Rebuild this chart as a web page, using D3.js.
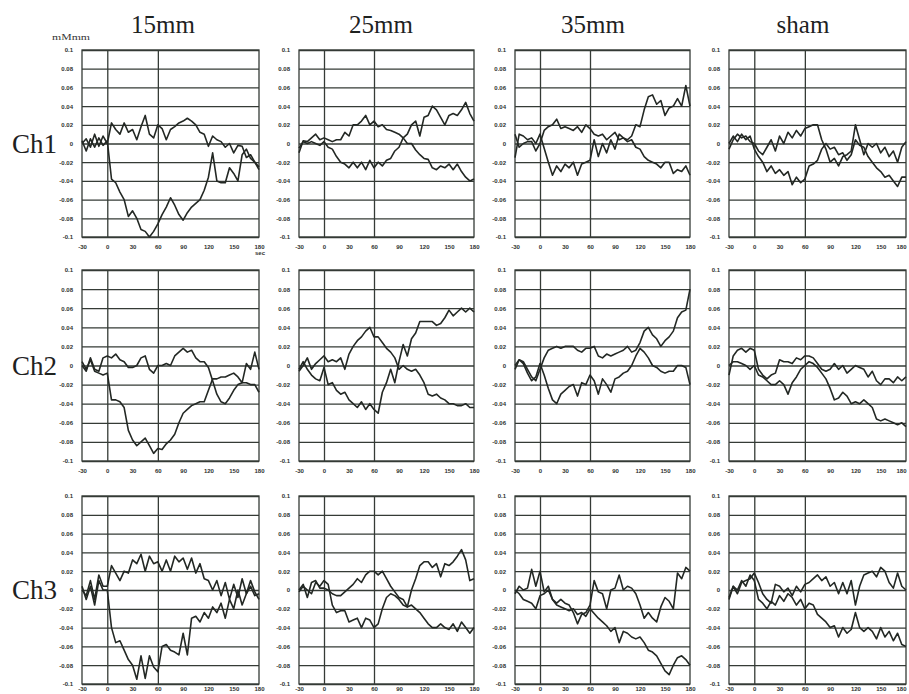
<!DOCTYPE html>
<html>
<head>
<meta charset="utf-8">
<script src="https://cdn.jsdelivr.net/npm/d3@7"></script>
<style>
  body { margin: 0; background: #fff; }
  svg { display: block; }
</style>
</head>
<body>
<script>
// sample times, sec
var seconds = [-30, -25, -20, -15, -10, -5, 0, 5, 10, 15, 20,
               25, 30, 35, 40, 45, 50, 55, 60, 65, 70, 75,
               80, 85, 90, 95, 100, 105, 110, 115, 120, 125, 130,
               135, 140, 145, 150, 155, 160, 165, 170, 175, 180];

var columns = ["15mm", "25mm", "35mm", "sham"];
var channels = ["Ch1", "Ch2", "Ch3"];
var yTicks = [0.1, 0.08, 0.06, 0.04, 0.02, 0, -0.02, -0.04, -0.06, -0.08, -0.1];
var xTicks = [-30, 0, 30, 60, 90, 120, 150, 180];
var markTimes = [0, 60];

// Ch1
var ch1_15_a = [0.0, 0.005, -0.004, 0.01, -0.003, 0.008, 0.0, 0.022, 0.015, 0.01, 0.022,
  0.012, 0.015, 0.004, 0.018, 0.03, 0.01, 0.006, 0.02, 0.016, 0.004, 0.015,
  0.018, 0.022, 0.024, 0.027, 0.024, 0.02, 0.012, 0.01, -0.003, 0.008, 0.004,
  0.002, -0.004, 0.0, -0.01, -0.002, -0.003, -0.015, -0.012, -0.02, -0.028];
var ch1_15_b = [0.003, -0.008, 0.005, -0.004, 0.006, -0.002, 0.003, -0.038, -0.042, -0.052, -0.06,
  -0.078, -0.072, -0.08, -0.092, -0.094, -0.1, -0.094, -0.086, -0.076, -0.068, -0.058,
  -0.066, -0.076, -0.082, -0.074, -0.068, -0.064, -0.06, -0.05, -0.036, -0.01, -0.04,
  -0.042, -0.042, -0.026, -0.032, -0.04, -0.012, -0.006, -0.016, -0.02, -0.025];
var ch1_25_a = [-0.01, 0.003, 0.002, 0.006, 0.01, 0.004, 0.006, 0.004, 0.002, 0.004, 0.004,
  0.012, 0.008, 0.02, 0.02, 0.024, 0.03, 0.02, 0.024, 0.018, 0.02, 0.015,
  0.014, 0.012, 0.01, 0.006, 0.0, 0.0, -0.007, -0.012, -0.016, -0.017, -0.026,
  -0.028, -0.024, -0.026, -0.022, -0.028, -0.022, -0.03, -0.036, -0.04, -0.038];
var ch1_25_b = [-0.005, 0.002, 0.0, 0.002, 0.0, -0.002, 0.002, -0.004, -0.006, -0.014, -0.02,
  -0.022, -0.026, -0.02, -0.026, -0.02, -0.028, -0.018, -0.026, -0.02, -0.024, -0.018,
  -0.016, -0.008, -0.004, 0.006, 0.01, 0.02, 0.024, 0.008, 0.028, 0.03, 0.04,
  0.036, 0.028, 0.02, 0.03, 0.032, 0.03, 0.036, 0.044, 0.032, 0.024];
var ch1_35_a = [0.01, -0.004, 0.0, 0.002, 0.002, -0.008, 0.0, 0.014, 0.018, 0.02, 0.026,
  0.016, 0.018, 0.016, 0.014, 0.018, 0.012, 0.02, 0.016, 0.01, 0.008, 0.01,
  0.004, 0.008, 0.012, 0.004, 0.006, 0.002, 0.004, -0.004, -0.006, -0.014, -0.018,
  -0.02, -0.022, -0.026, -0.02, -0.02, -0.032, -0.028, -0.03, -0.024, -0.034];
var ch1_35_b = [-0.015, 0.01, 0.008, 0.004, 0.006, 0.0, 0.01, -0.005, -0.02, -0.034, -0.024,
  -0.03, -0.022, -0.026, -0.02, -0.034, -0.022, -0.02, -0.018, 0.004, -0.014, 0.0,
  -0.01, 0.004, -0.006, 0.01, 0.006, 0.004, 0.008, 0.02, 0.018, 0.036, 0.05,
  0.052, 0.042, 0.046, 0.03, 0.038, 0.04, 0.048, 0.04, 0.062, 0.04];
var ch1_sham_a = [0.0, 0.008, 0.002, 0.01, 0.004, 0.008, -0.006, -0.014, -0.02, -0.03, -0.024,
  -0.032, -0.028, -0.034, -0.03, -0.044, -0.036, -0.042, -0.038, -0.024, -0.022, -0.018,
  -0.006, 0.0, -0.006, -0.004, -0.012, -0.01, -0.018, -0.012, 0.004, -0.002, -0.004,
  -0.014, -0.02, -0.026, -0.03, -0.036, -0.034, -0.04, -0.046, -0.036, -0.036];
var ch1_sham_b = [-0.006, 0.004, 0.01, 0.006, 0.008, 0.002, 0.0, -0.008, -0.012, -0.004, 0.004,
  -0.008, 0.008, 0.0, 0.012, 0.006, 0.014, 0.008, 0.016, 0.018, 0.02, 0.02,
  0.004, -0.006, -0.02, -0.016, -0.024, -0.014, -0.012, -0.008, 0.02, 0.004, -0.012,
  0.0, -0.004, 0.0, -0.01, -0.004, -0.014, -0.008, -0.02, -0.004, 0.002];

// Ch2
var ch2_15_a = [0.0, -0.006, 0.008, -0.004, -0.006, 0.008, 0.01, 0.008, 0.012, 0.006, 0.004,
  -0.002, -0.002, 0.0, 0.008, 0.01, -0.004, -0.008, 0.0, 0.0, 0.002, 0.0,
  0.01, 0.014, 0.018, 0.014, 0.016, 0.008, 0.004, 0.004, -0.002, -0.016, -0.03,
  -0.038, -0.04, -0.034, -0.026, -0.02, -0.018, -0.018, -0.02, -0.02, -0.028];
var ch2_15_b = [0.004, -0.004, 0.006, -0.006, -0.008, -0.01, -0.008, -0.036, -0.036, -0.038, -0.044,
  -0.068, -0.078, -0.084, -0.08, -0.076, -0.084, -0.092, -0.087, -0.088, -0.082, -0.078,
  -0.072, -0.06, -0.05, -0.046, -0.042, -0.04, -0.038, -0.038, -0.026, -0.014, -0.014,
  -0.012, -0.012, -0.01, -0.008, -0.012, -0.018, 0.002, -0.004, 0.014, -0.004];
var ch2_25_a = [-0.006, 0.0, 0.008, -0.004, 0.002, 0.006, 0.01, 0.004, 0.006, 0.004, 0.008,
  -0.004, 0.012, 0.02, 0.026, 0.03, 0.036, 0.04, 0.03, 0.03, 0.024, 0.018,
  0.014, 0.008, -0.004, 0.0, -0.004, -0.006, -0.004, -0.01, -0.018, -0.03, -0.032,
  -0.03, -0.034, -0.036, -0.04, -0.04, -0.042, -0.042, -0.04, -0.044, -0.044];
var ch2_25_b = [-0.004, 0.004, -0.004, -0.01, -0.014, -0.016, -0.002, -0.02, -0.018, -0.026, -0.03,
  -0.028, -0.036, -0.04, -0.044, -0.038, -0.046, -0.04, -0.046, -0.05, -0.028, -0.018,
  -0.004, -0.018, 0.004, 0.022, 0.01, 0.028, 0.034, 0.046, 0.046, 0.046, 0.046,
  0.042, 0.044, 0.05, 0.058, 0.052, 0.056, 0.06, 0.056, 0.06, 0.056];
var ch2_35_a = [-0.004, 0.006, 0.004, -0.004, -0.012, -0.016, -0.004, 0.008, 0.016, 0.018, 0.02,
  0.018, 0.02, 0.02, 0.02, 0.016, 0.014, 0.018, 0.018, 0.02, 0.01, 0.008,
  0.012, 0.01, 0.012, 0.014, 0.016, 0.02, 0.014, 0.016, 0.024, 0.036, 0.04,
  0.032, 0.028, 0.02, 0.026, 0.03, 0.036, 0.05, 0.056, 0.058, 0.08];
var ch2_35_b = [0.0, 0.006, 0.002, -0.008, -0.016, -0.012, 0.002, -0.01, -0.024, -0.036, -0.04,
  -0.03, -0.026, -0.022, -0.02, -0.032, -0.018, -0.02, -0.01, -0.016, -0.03, -0.014,
  -0.02, -0.028, -0.014, -0.012, -0.008, -0.006, 0.0, 0.01, 0.018, 0.014, 0.008,
  0.0, -0.002, -0.006, -0.008, -0.006, -0.006, 0.0, 0.0, -0.002, -0.02];
var ch2_sham_a = [-0.01, 0.01, 0.016, 0.018, 0.014, 0.018, 0.016, -0.004, -0.01, -0.014, -0.01,
  -0.008, 0.006, 0.004, 0.004, 0.002, 0.008, 0.006, 0.01, 0.01, 0.008, 0.002,
  -0.004, -0.006, -0.004, 0.002, -0.004, 0.0, -0.008, -0.004, 0.0, -0.002, -0.004,
  -0.012, -0.006, -0.016, -0.02, -0.014, -0.014, -0.018, -0.012, -0.016, -0.012];
var ch2_sham_b = [0.0, 0.004, 0.004, 0.002, 0.0, -0.004, 0.0, -0.01, -0.012, -0.016, -0.02,
  -0.02, -0.016, -0.02, -0.03, -0.018, -0.012, -0.004, 0.0, 0.004, 0.002, -0.002,
  -0.008, -0.014, -0.024, -0.036, -0.034, -0.028, -0.032, -0.04, -0.038, -0.04, -0.036,
  -0.04, -0.044, -0.056, -0.058, -0.056, -0.058, -0.06, -0.062, -0.06, -0.064];

// Ch3
var ch3_15_a = [0.0, -0.006, 0.01, -0.01, 0.016, 0.004, 0.004, 0.026, 0.018, 0.01, 0.02,
  0.018, 0.032, 0.028, 0.038, 0.02, 0.036, 0.028, 0.03, 0.02, 0.032, 0.02,
  0.036, 0.03, 0.034, 0.022, 0.034, 0.018, 0.028, 0.012, 0.01, 0.0, 0.01,
  -0.006, 0.008, -0.01, 0.006, -0.008, 0.012, -0.004, 0.01, -0.002, -0.01];
var ch3_15_b = [0.004, -0.01, 0.004, -0.016, 0.01, 0.0, 0.0, -0.04, -0.056, -0.054, -0.064,
  -0.074, -0.08, -0.095, -0.07, -0.094, -0.07, -0.082, -0.087, -0.06, -0.058, -0.064,
  -0.066, -0.069, -0.046, -0.069, -0.03, -0.028, -0.034, -0.024, -0.03, -0.018, -0.024,
  -0.014, -0.03, -0.01, -0.02, 0.0, -0.016, -0.004, 0.004, -0.006, -0.004];
var ch3_25_a = [0.0, 0.006, -0.008, 0.008, 0.01, 0.002, 0.002, 0.0, -0.004, -0.006, -0.006,
  -0.002, 0.002, 0.006, 0.012, 0.008, 0.016, 0.02, 0.02, 0.016, 0.02, 0.012,
  0.004, -0.002, -0.008, -0.01, -0.018, -0.016, -0.02, -0.024, -0.03, -0.036, -0.04,
  -0.04, -0.036, -0.04, -0.042, -0.036, -0.044, -0.034, -0.04, -0.046, -0.04];
var ch3_25_b = [-0.002, 0.004, 0.0, -0.004, 0.008, 0.004, 0.01, 0.006, -0.016, -0.024, -0.022,
  -0.022, -0.034, -0.032, -0.03, -0.04, -0.03, -0.032, -0.04, -0.036, -0.02, -0.008,
  -0.004, -0.006, -0.01, -0.016, -0.018, 0.0, 0.012, 0.026, 0.03, 0.03, 0.024,
  0.028, 0.014, 0.028, 0.026, 0.03, 0.036, 0.043, 0.032, 0.01, 0.012];
var ch3_35_a = [0.0, -0.004, -0.01, -0.012, -0.014, -0.02, -0.006, -0.004, 0.0, -0.01, -0.016,
  -0.018, -0.02, -0.022, -0.02, -0.026, -0.024, -0.028, -0.02, -0.025, -0.03, -0.034,
  -0.038, -0.044, -0.04, -0.056, -0.044, -0.046, -0.05, -0.052, -0.05, -0.056, -0.064,
  -0.066, -0.07, -0.078, -0.086, -0.09, -0.08, -0.072, -0.07, -0.074, -0.08];
var ch3_35_b = [-0.004, 0.004, 0.0, 0.002, 0.022, 0.004, 0.02, -0.002, 0.004, -0.01, -0.014,
  -0.01, -0.014, -0.016, -0.024, -0.036, -0.026, -0.024, -0.016, 0.01, -0.002, -0.004,
  -0.02, 0.0, 0.002, 0.016, 0.0, 0.004, 0.002, -0.004, -0.016, -0.03, -0.024,
  -0.03, -0.034, -0.018, -0.008, -0.012, -0.02, 0.018, 0.012, 0.024, 0.02];
var ch3_sham_a = [-0.008, 0.004, -0.004, 0.008, 0.01, 0.012, 0.018, 0.008, -0.004, -0.01, -0.014,
  0.006, 0.004, -0.002, 0.002, -0.006, 0.004, -0.002, 0.006, 0.008, 0.012, 0.016,
  0.01, 0.014, 0.004, 0.008, -0.004, 0.008, -0.004, 0.01, -0.016, 0.004, 0.016,
  0.018, 0.02, 0.014, 0.024, 0.02, 0.008, 0.002, 0.018, 0.004, 0.0];
var ch3_sham_b = [-0.01, 0.004, 0.0, 0.01, 0.004, 0.016, 0.01, -0.01, -0.014, -0.02, -0.012,
  -0.016, -0.006, -0.012, -0.004, -0.008, -0.016, -0.01, -0.02, -0.014, -0.016, -0.026,
  -0.03, -0.034, -0.04, -0.038, -0.05, -0.04, -0.046, -0.042, -0.024, -0.04, -0.044,
  -0.04, -0.044, -0.052, -0.04, -0.05, -0.044, -0.054, -0.046, -0.058, -0.06];

// rows = channels, cols = probe distance
var panels = [
  [[ch1_15_a, ch1_15_b], [ch1_25_a, ch1_25_b], [ch1_35_a, ch1_35_b], [ch1_sham_a, ch1_sham_b]],
  [[ch2_15_a, ch2_15_b], [ch2_25_a, ch2_25_b], [ch2_35_a, ch2_35_b], [ch2_sham_a, ch2_sham_b]],
  [[ch3_15_a, ch3_15_b], [ch3_25_a, ch3_25_b], [ch3_35_a, ch3_35_b], [ch3_sham_a, ch3_sham_b]]
];

var W = 909, H = 694;
var colX = [[82, 259], [299, 474], [515, 690], [729, 906]];
var rowY = [[50, 237], [270, 461], [496, 684]];
var xPad = [8, 8, 3];
var titleX = [163, 381, 593, 803];
var ink = "#232824", gridInk = "#353b36";

var svg = d3.select("body").append("svg").attr("width", W).attr("height", H);

var fmt = function (d) { return d === 0 ? "0" : d3.format(".2~f")(d).replace("\u2212", "-"); };

svg.selectAll("text.col")
  .data(columns)
  .enter()
  .append("text")
  .attr("class", "col")
  .attr("x", function (d, i) { return titleX[i]; })
  .attr("y", 33)
  .attr("text-anchor", "middle")
  .style("font", "25px 'Liberation Serif', serif")
  .style("fill", "#1e221f")
  .text(function (d) { return d; });

svg.selectAll("text.row")
  .data(channels)
  .enter()
  .append("text")
  .attr("class", "row")
  .attr("x", 57)
  .attr("y", function (d, i) { return (rowY[i][0] + rowY[i][1]) / 2 + 9; })
  .attr("text-anchor", "end")
  .style("font", "27px 'Liberation Serif', serif")
  .style("fill", "#1e221f")
  .text(function (d) { return d; });

panels.forEach(function (rowSeries, r) {
  rowSeries.forEach(function (pair, c) {
    var w = colX[c][1] - colX[c][0], h = rowY[r][1] - rowY[r][0];
    var x = d3.scaleLinear().domain([-30, 180]).range([0, w]);
    var y = d3.scaleLinear().domain([-0.1, 0.1]).range([h, 0]);
    var g = svg.append("g").attr("transform", "translate(" + colX[c][0] + "," + rowY[r][0] + ")");

    // horizontal grid
    g.append("g")
      .call(d3.axisLeft(y).tickValues(yTicks).tickSize(-w).tickFormat(""))
      .call(function (a) { a.select(".domain").remove(); })
      .selectAll("line").attr("stroke", gridInk).attr("stroke-width", 1.3);

    // stimulus on/off
    g.append("g")
      .attr("transform", "translate(0," + h + ")")
      .call(d3.axisBottom(x).tickValues(markTimes).tickSize(-h).tickFormat(""))
      .call(function (a) { a.select(".domain").remove(); })
      .selectAll("line").attr("stroke", gridInk).attr("stroke-width", 1.3);

    g.append("rect")
      .attr("width", w).attr("height", h)
      .attr("fill", "none").attr("stroke", gridInk).attr("stroke-width", 1.3);

    // tick labels
    g.append("g")
      .call(d3.axisLeft(y).tickValues(yTicks).tickSize(0).tickPadding(9).tickFormat(fmt))
      .call(function (a) { a.select(".domain").remove(); })
      .selectAll("text")
      .style("font", "bold 6px 'Liberation Sans', sans-serif")
      .attr("fill", "#2e322f");

    var xl = g.append("g")
      .attr("transform", "translate(0," + h + ")")
      .call(d3.axisBottom(x).tickValues(xTicks).tickSize(0).tickPadding(xPad[r]).tickFormat(function (d) { return d; }))
      .call(function (a) { a.select(".domain").remove(); });
    xl.selectAll("text")
      .style("font", "bold 6px 'Liberation Sans', sans-serif")
      .attr("fill", "#2e322f");
    if (c === columns.length - 1) {
      xl.selectAll("text").filter(function (d) { return d === 180; }).attr("text-anchor", "end");
    }

    var line = d3.line()
      .x(function (d, i) { return x(seconds[i]); })
      .y(function (d) { return y(d); });

    g.selectAll("path.trace")
      .data(pair)
      .enter()
      .append("path")
      .attr("class", "trace")
      .attr("d", line)
      .attr("fill", "none")
      .attr("stroke", ink)
      .attr("stroke-width", 1.6)
      .attr("stroke-linejoin", "round");
  });
});

// units
svg.append("text")
  .attr("x", 52).attr("y", 40)
  .attr("textLength", 38).attr("lengthAdjust", "spacingAndGlyphs")
  .style("font", "8px 'Liberation Serif', serif")
  .style("fill", "#333")
  .text("mMmm");

svg.append("text")
  .attr("x", 255).attr("y", 255)
  .style("font", "bold 6px 'Liberation Sans', sans-serif")
  .style("fill", "#333")
  .text("sec");
</script>
</body>
</html>
